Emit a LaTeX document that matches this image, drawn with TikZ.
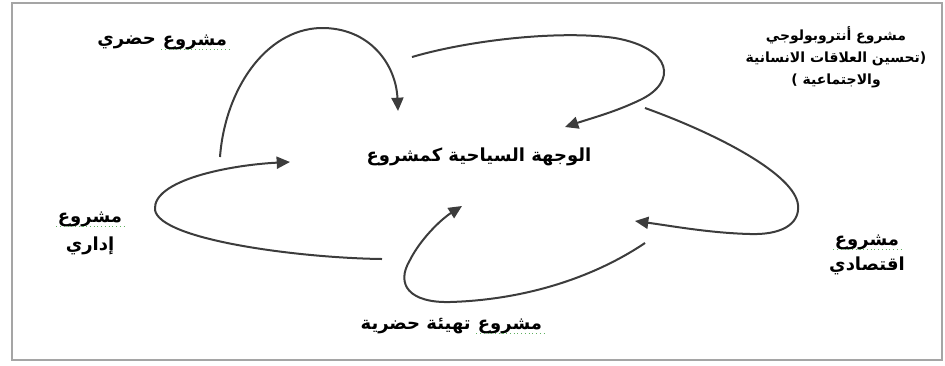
\documentclass[tikz,border=0pt]{standalone}
\usepackage{fontspec}
\usepackage{tikz}
\usetikzlibrary{positioning,arrows.meta}
\TeXXeTstate=1
\newfontfamily\arabicfont[Script=Arabic]{DejaVu Sans}
\definecolor{spellgreen}{RGB}{95,175,95}
\definecolor{framegray}{RGB}{165,165,165}
\definecolor{arrowgray}{RGB}{60,60,60}

\begin{document}
\begin{tikzpicture}[x=0.75pt,y=0.75pt,yscale=-1,xscale=1,
  lbl/.style={font=\arabicfont\bfseries\fontsize{13.5}{16}\selectfont, inner sep=1pt, align=center},
  small lbl/.style={font=\arabicfont\bfseries\fontsize{10.5}{16.5}\selectfont, inner sep=1pt, align=center},
  spell/.style={draw=spellgreen, line width=0.8pt, dotted},
  flow/.style={draw=arrowgray, line width=1.5pt, -{Triangle[length=10pt,width=9pt]}}]
\useasboundingbox (0,0) rectangle (945,365);

%Shape: Rectangle
\draw [draw=framegray, line width=2pt] (12,3) rectangle (942,360);

% Text Node
\node [lbl] (center) at (479,157) {\beginR الوجهة السياحية كمشروع\endR};
% Text Node
\node [lbl] (hadari) at (195,42) {\beginR مشروع\endR};
\node [lbl, left=3pt of hadari] (hadari2) {\beginR حضري\endR};
% Text Node
\node [small lbl] (anthro) at (836,57) {\beginR مشروع أنتروبولوجي\endR\\ \beginR(تحسين العلاقات الانسانية\endR\\ \beginR والاجتماعية )\endR};
% Text Node
\node [lbl] (iqtisadi) at (867,242) {\beginR مشروع\endR};
\node [lbl, below=3pt of iqtisadi] (iqtisadi2) {\beginR اقتصادي\endR};
% Text Node
\node [lbl] (tahyia) at (510,326) {\beginR مشروع\endR};
\node [lbl, left=3pt of tahyia] (tahyia2) {\beginR تهيئة حضرية\endR};
% Text Node
\node [lbl] (idari) at (90,219) {\beginR مشروع\endR};
\node [lbl, below=5pt of idari] (idari2) {\beginR إداري\endR};

% spelling marks under the words
\draw [spell] ([yshift=-1pt]hadari.south west) -- ([yshift=-1pt]hadari.south east);
\draw [spell] ([yshift=-1pt]iqtisadi.south west) -- ([yshift=-1pt]iqtisadi.south east);
\draw [spell] ([yshift=-1pt]tahyia.south west) -- ([yshift=-1pt]tahyia.south east);
\draw [spell] ([yshift=-1pt]idari.south west) -- ([yshift=-1pt]idari.south east);

% ends of the curves
\coordinate (hadari s) at (220,157);
\coordinate (hadari e) at (398,111);
\coordinate (anthro s) at (412,57);
\coordinate (anthro e) at (565,127);
\coordinate (iqtisadi s) at (645,108);
\coordinate (iqtisadi e) at (635,221);
\coordinate (tahyia s) at (645,243);
\coordinate (tahyia e) at (462,206);
\coordinate (idari s) at (382,259);
\coordinate (idari e) at (290,162);

%Curve Lines
\draw [flow] (hadari s) .. controls (225,90) and (265,30) .. (320,28) .. controls (370,27) and (396,65) .. (hadari e);
%Curve Lines
\draw [flow] (anthro s) .. controls (470,40) and (560,30) .. (615,38) .. controls (672,48) and (678,82) .. (640,100) .. controls (615,112) and (592,118) .. (anthro e);
%Curve Lines
\draw [flow] (iqtisadi s) .. controls (720,135) and (795,175) .. (798,205) .. controls (800,225) and (780,235) .. (750,234) .. controls (710,233) and (672,226) .. (iqtisadi e);
%Curve Lines
\draw [flow] (tahyia s) .. controls (590,280) and (520,300) .. (450,302) .. controls (410,303) and (395,285) .. (410,260) .. controls (420,240) and (440,220) .. (tahyia e);
%Curve Lines
\draw [flow] (idari s) .. controls (300,258) and (160,240) .. (155,210) .. controls (152,180) and (230,165) .. (idari e);
\end{tikzpicture}
\end{document}
